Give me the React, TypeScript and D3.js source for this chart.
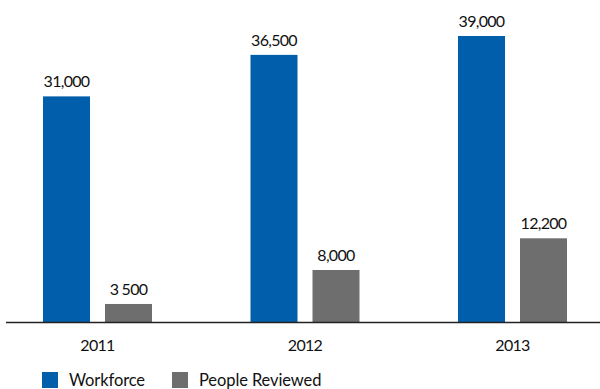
import React from "react";
import * as d3 from "d3";

const years = ["2011", "2012", "2013"];
const workforce = [31000, 36500, 39000];
const reviewed = [3500, 8000, 12200];
const workforceLabels = ["31,000", "36,500", "39,000"];
const reviewedLabels = ["3 500", "8,000", "12,200"];
const seriesNames = ["Workforce", "People Reviewed"];
const colors = ["#005EAA", "#6E6E6E"];

const W = 600;
const H = 389;
const FONT = "Lato, 'Open Sans', sans-serif";
const BASE = 322.5;

export default function App() {
  const x0 = d3.scaleBand().domain(years).range([43, 567]).paddingInner(0.4747).paddingOuter(0);
  const x1 = d3.scaleBand().domain(seriesNames).range([0, x0.bandwidth()]).paddingInner(0.242);
  const y = d3.scaleLinear().domain([1046, 39000]).range([BASE, 36]);
  const series = [workforce, reviewed];
  const labels = [workforceLabels, reviewedLabels];

  return (
    <svg width={W} height={H} style={{ position: "absolute", left: 0, top: 0, background: "#fff" }} fontFamily={FONT}>
      {years.map((yr, i) => (
        <g key={yr} transform={`translate(${x0(yr)},0)`}>
          {seriesNames.map((s, j) => {
            const v = series[j][i];
            const bx = x1(s)!;
            return (
              <g key={s}>
                <rect x={bx} y={y(v)} width={x1.bandwidth()} height={BASE - y(v)} fill={colors[j]} />
                <text
                  x={bx + x1.bandwidth() / 2}
                  y={y(v) - 9}
                  textAnchor="middle"
                  fontSize={16}
                  letterSpacing={-0.7}
                  fill="#111"
                >
                  {labels[j][i]}
                </text>
              </g>
            );
          })}
          <text x={x0.bandwidth() / 2} y={351} textAnchor="middle" fontSize={16} letterSpacing={-0.7} fill="#111">
            {yr}
          </text>
        </g>
      ))}
      <line x1={6} x2={600} y1={BASE} y2={BASE} stroke="#222" strokeWidth={1.6} />
      {seriesNames.map((s, j) => {
        const lx = [42, 172][j];
        return (
          <g key={s}>
            <rect x={lx} y={372} width={16} height={16} fill={colors[j]} />
            <text x={lx + 27} y={386} fontSize={16.5} letterSpacing={-0.1} fill="#111">
              {s}
            </text>
          </g>
        );
      })}
    </svg>
  );
}
